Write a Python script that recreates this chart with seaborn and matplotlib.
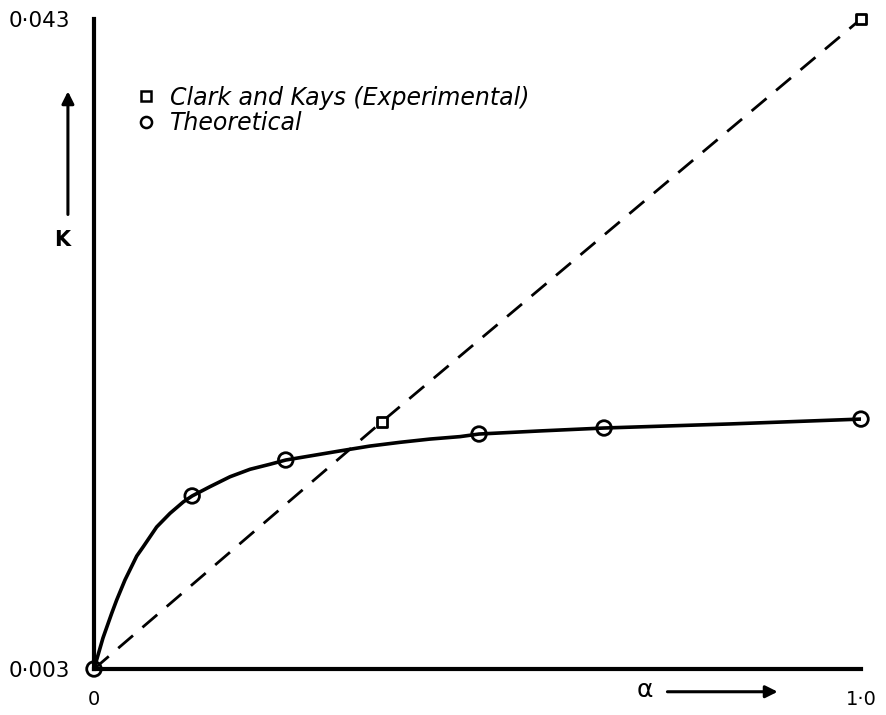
import matplotlib
matplotlib.use("Agg")
import matplotlib.pyplot as plt
import seaborn as sns
from matplotlib.lines import Line2D

# ---------------------------------------------------------
# data
# ---------------------------------------------------------
# theoretical points (circles)
theory_alpha = [0.0, 0.128, 0.250, 0.502, 0.665, 1.0]
theory_k = [0.003, 0.01365, 0.01586, 0.01746, 0.01783, 0.01838]

# the drawn theoretical curve
curve_alpha = [0.0, 0.0117, 0.0231, 0.0296, 0.0404, 0.0557, 0.0643, 0.0817,
               0.0991, 0.1164, 0.128, 0.1512, 0.1773, 0.2034, 0.2295, 0.250,
               0.2816, 0.3207, 0.3598, 0.399, 0.4381, 0.4772, 0.502, 0.5815,
               0.665, 0.829, 1.0]
curve_k = [0.003, 0.00491, 0.00643, 0.00725, 0.00848, 0.00995, 0.01053, 0.01174,
           0.01258, 0.01328, 0.01365, 0.01422, 0.01483, 0.01529, 0.01560, 0.01586,
           0.01611, 0.01642, 0.01672, 0.01695, 0.01715, 0.01730, 0.01746, 0.01765,
           0.01783, 0.01808, 0.01838]

# Clark and Kays (experimental) squares, dashed line from the origin
exp_alpha = [0.375, 1.0]
exp_k = [0.0182, 0.043]
exp_line_alpha = [0.0, 0.375, 1.0]
exp_line_k = [0.003, 0.0182, 0.043]

x_ticks = [0.0, 1.0]
x_tick_labels = ["0", "1\u00b70"]
y_ticks = [0.003, 0.043]
y_tick_labels = ["0\u00b7003", "0\u00b7043"]

# ---------------------------------------------------------
# figure
# ---------------------------------------------------------
sns.set_style("white")
plt.rcParams["font.family"] = ["DejaVu Sans"]

fig = plt.figure(figsize=(8.86, 7.15), dpi=100)
ax = fig.add_axes([94 / 886, 46 / 715, 767 / 886, 650 / 715])

sns.lineplot(x=curve_alpha, y=curve_k, color="black", lw=2.6, sort=False,
             solid_joinstyle="round", ax=ax)
sns.lineplot(x=exp_line_alpha, y=exp_line_k, color="black", lw=2.0, sort=False,
             linestyle=(0, (7, 4.5)), ax=ax)

sns.scatterplot(x=theory_alpha, y=theory_k, marker="o", s=110, color="black",
                clip_on=False, zorder=5, ax=ax)
c = ax.collections[-1]
c.set_facecolor("none"); c.set_edgecolor("black"); c.set_linewidth(2)

sns.scatterplot(x=exp_alpha, y=exp_k, marker="s", s=50, color="black",
                clip_on=False, zorder=5, ax=ax)
c = ax.collections[-1]
c.set_facecolor("white"); c.set_edgecolor("black"); c.set_linewidth(2)

ax.set_xlim(0, 1)
ax.set_ylim(0.003, 0.043)
ax.set_xticks(x_ticks, x_tick_labels)
ax.set_yticks(y_ticks, y_tick_labels)
ax.tick_params(axis="both", direction="out", length=15, width=2.5,
               color="black", labelcolor="black", pad=2)
ax.tick_params(axis="y", labelsize=15.5)
ax.tick_params(axis="x", length=14, pad=1, labelsize=14)
sns.despine(ax=ax)
for s in ["left", "bottom"]:
    ax.spines[s].set_linewidth(3)
    ax.spines[s].set_color("black")

# axis names with arrows
ax.text(-0.042, 0.66, "K", transform=ax.transAxes, ha="center", va="center",
        fontsize=15, fontweight="bold", color="black")
ax.annotate("", xy=(-0.034, 0.893), xytext=(-0.034, 0.695),
            xycoords="axes fraction", textcoords="axes fraction",
            arrowprops=dict(arrowstyle="-|>", color="black", lw=2.2, mutation_scale=18))
ax.text(0.718, -0.033, "\u03b1", transform=ax.transAxes, ha="center", va="center",
        fontsize=18, color="black")
ax.annotate("", xy=(0.895, -0.035), xytext=(0.744, -0.035),
            xycoords="axes fraction", textcoords="axes fraction",
            arrowprops=dict(arrowstyle="-|>", color="black", lw=2.2, mutation_scale=18),
            annotation_clip=False)

handles = [
    Line2D([], [], marker="s", ls="none", mfc="none", mec="black", ms=7, mew=1.8,
           label="Clark and Kays (Experimental)"),
    Line2D([], [], marker="o", ls="none", mfc="none", mec="black", ms=8, mew=1.8,
           label="Theoretical"),
]
leg = ax.legend(handles=handles, loc="upper left", bbox_to_anchor=(0.04, 0.912),
                frameon=False, prop={"style": "italic", "size": 17},
                handlelength=1.0, handletextpad=0.5, labelspacing=0.05,
                borderaxespad=0)
for t in leg.get_texts():
    t.set_color("black")

fig.savefig("out.png", dpi=100)
